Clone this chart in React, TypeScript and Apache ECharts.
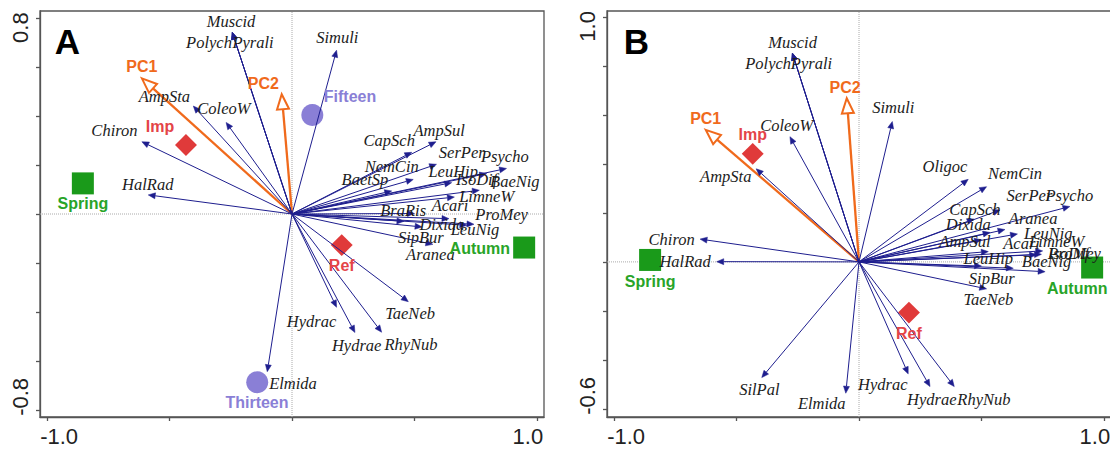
import React, { useEffect, useRef } from "react";
import * as echarts from "echarts";

// ---------------- Panel A data ----------------
const speciesA = ["Muscid","Polych","Pyrali","Simuli","AmpSta","ColeoW","Chiron","HalRad","Elmida","Hydrac","Hydrae","RhyNub","TaeNeb","AmpSul","CapSch","SerPer","Psycho","NemCin","LeuHip","IsoDif","BaetSp","BaeNig","LimneW","BraRis","Acari","ProMey","Dixida","LeuNig","SipBur","Aranea"];
const tipAX = [-0.244,-0.244,-0.244,0.182,-0.403,-0.269,-0.613,-0.587,-0.101,0.182,0.257,0.366,0.475,0.588,0.489,0.590,0.876,0.495,0.652,0.795,0.407,0.765,0.663,0.500,0.641,0.743,0.531,0.714,0.457,0.575];
const tipAY = [0.742,0.742,0.742,0.669,0.441,0.374,0.295,0.078,-0.644,-0.381,-0.484,-0.483,-0.358,0.295,0.252,0.203,0.186,0.141,0.128,0.165,0.094,0.097,0.069,0.002,-0.019,-0.042,-0.053,-0.046,-0.030,-0.124];
const labAX = [-0.249,-0.339,-0.159,0.185,-0.521,-0.278,-0.725,-0.589,0.004,0.080,0.264,0.486,0.482,0.601,0.397,0.693,0.869,0.407,0.658,0.754,0.298,0.910,0.795,0.454,0.645,0.856,0.612,0.747,0.526,0.565];
const labAY = [0.785,0.699,0.699,0.721,0.479,0.431,0.343,0.121,-0.691,-0.437,-0.535,-0.531,-0.408,0.343,0.302,0.250,0.234,0.196,0.173,0.139,0.141,0.132,0.071,0.016,0.033,0.000,-0.041,-0.065,-0.097,-0.166];

const pcNames = ["PC1", "PC2"];
const pcAX = [-0.613, -0.042];
const pcAY = [0.554, 0.489];
const pcLabAX = [-0.613, -0.117];
const pcLabAY = [0.601, 0.533];

const groupsA = ["Imp", "Ref", "Spring", "Autumn", "Fifteen", "Thirteen"];
const grpAX = [-0.433, 0.203, -0.854, 0.948, 0.083, -0.142];
const grpAY = [0.282, -0.127, 0.125, -0.137, 0.404, -0.687];
const grpLabAX = [-0.539, 0.203, -0.854, 0.767, 0.237, -0.143];
const grpLabAY = [0.359, -0.211, 0.041, -0.140, 0.479, -0.771];

// ---------------- Panel B data ----------------
const speciesB = ["Muscid","Polych","Pyrali","Simuli","ColeoW","AmpSta","Chiron","HalRad","SilPal","Elmida","Hydrac","Hydrae","RhyNub","TaeNeb","SipBur","Oligoc","NemCin","SerPer","Psycho","CapSch","Aranea","Dixida","LeuNig","AmpSul","Acari","LimneW","LeuHip","IsoDif","ProMey","BaeNig"];
const tipBX = [-0.272,-0.272,-0.272,0.136,-0.282,-0.420,-0.649,-0.581,-0.397,-0.054,0.201,0.290,0.389,0.521,0.500,0.446,0.521,0.576,0.861,0.470,0.596,0.535,0.647,0.500,0.630,0.750,0.528,0.725,0.745,0.760];
const tipBY = [0.852,0.852,0.852,0.573,0.511,0.380,0.093,0.001,-0.472,-0.536,-0.457,-0.509,-0.509,-0.110,-0.017,0.337,0.307,0.212,0.226,0.175,0.132,0.120,0.114,0.090,-0.026,0.045,0.042,0.029,0.031,-0.040];
const labBX = [-0.271,-0.371,-0.194,0.140,-0.295,-0.544,-0.765,-0.710,-0.407,-0.152,0.097,0.297,0.510,0.528,0.542,0.351,0.637,0.696,0.859,0.473,0.711,0.446,0.773,0.433,0.664,0.807,0.528,0.855,0.880,0.766];
const labBY = [0.895,0.811,0.811,0.631,0.555,0.348,0.093,0.001,-0.520,-0.577,-0.502,-0.563,-0.563,-0.152,-0.067,0.389,0.359,0.269,0.269,0.212,0.178,0.151,0.117,0.083,0.076,0.083,0.015,0.033,0.033,0.001];

const pcBX = [-0.626, -0.050];
const pcBY = [0.539, 0.668];
const pcLabBX = [-0.626, -0.057];
const pcLabBY = [0.586, 0.713];

const groupsB = ["Imp", "Ref", "Spring", "Autumn"];
const grpBX = [-0.434, 0.204, -0.853, 0.952];
const grpBY = [0.441, -0.207, 0.008, -0.023];
const grpLabBX = [-0.434, 0.204, -0.853, 0.891];
const grpLabBY = [0.518, -0.291, -0.078, -0.107];

// ---------------- Axes ----------------
const xRange = [-1.029, 1.029];
const yRangeA = [-0.829, 0.829];
const yRangeB = [-0.633, 1.024];
const xTicks = [-1, -0.5, 0, 0.5, 1];
const xTickLabels = [-1, 1];
const yTicksA = [-0.8, -0.6, -0.4, -0.2, 0, 0.2, 0.4, 0.6, 0.8];
const yTickLabelsA = [-0.8, 0.8];
const yTicksB = [-0.6, -0.4, -0.2, 0, 0.2, 0.4, 0.6, 0.8, 1.0];
const yTickLabelsB = [-0.6, 1.0];
const panelLetters = ["A", "B"];

// ---------------- Styles ----------------
const NAVY = "#1e1e8e";
const ORANGE = "#f06a1c";
const RED = "#e03a3a";
const GREEN = "#1a9a1a";
const PURPLE = "#8a7fd6";
const AXIS = "#555";
const SANS = "Liberation Sans, Arial, sans-serif";
const SERIF = "Liberation Serif, Times New Roman, serif";

const groupStyle: Record<string, { symbol: string; size: number; rotate: number; color: string; text: string }> = {
  Imp: { symbol: "rect", size: 15.5, rotate: 45, color: RED, text: "#e44448" },
  Ref: { symbol: "rect", size: 15.5, rotate: 45, color: RED, text: "#e44448" },
  Spring: { symbol: "rect", size: 22, rotate: 0, color: GREEN, text: "#28a428" },
  Autumn: { symbol: "rect", size: 22, rotate: 0, color: GREEN, text: "#28a428" },
  Fifteen: { symbol: "circle", size: 22, rotate: 0, color: PURPLE, text: PURPLE },
  Thirteen: { symbol: "circle", size: 22, rotate: 0, color: PURPLE, text: PURPLE },
};

function arrowSeries(ai: number, xs: number[], ys: number[], opts: { color: string; width: number; headLen: number; headHalf: number; hollow: boolean; z: number }) {
  return {
    type: "custom",
    coordinateSystem: "cartesian2d",
    xAxisIndex: ai,
    yAxisIndex: ai,
    silent: true,
    z: opts.z,
    data: xs.map((x, i) => [x, ys[i]]),
    renderItem: (_p: any, api: any) => {
      const p0 = api.coord([0, 0]);
      const p1 = api.coord([api.value(0), api.value(1)]);
      const dx = p1[0] - p0[0];
      const dy = p1[1] - p0[1];
      const len = Math.hypot(dx, dy) || 1;
      const ux = dx / len;
      const uy = dy / len;
      const bx = p1[0] - ux * opts.headLen;
      const by = p1[1] - uy * opts.headLen;
      const h = opts.headHalf;
      return {
        type: "group",
        children: [
          { type: "line", shape: { x1: p0[0], y1: p0[1], x2: bx, y2: by }, style: { stroke: opts.color, lineWidth: opts.width } },
          {
            type: "polygon",
            shape: { points: [[p1[0], p1[1]], [bx - uy * h, by + ux * h], [bx + uy * h, by - ux * h]] },
            style: opts.hollow ? { fill: "#fff", stroke: opts.color, lineWidth: 2 } : { fill: opts.color, stroke: opts.color, lineWidth: 0.5 },
          },
        ],
      };
    },
  };
}

function textSeries(ai: number, names: string[], xs: number[], ys: number[], colorOf: (n: string) => string, font: { size: number; family: string; style: string; weight: string }, z: number) {
  return {
    type: "custom",
    coordinateSystem: "cartesian2d",
    xAxisIndex: ai,
    yAxisIndex: ai,
    silent: true,
    z,
    data: xs.map((x, i) => [x, ys[i]]),
    renderItem: (params: any, api: any) => {
      const p = api.coord([api.value(0), api.value(1)]);
      const name = names[params.dataIndex];
      return {
        type: "text",
        x: p[0],
        y: p[1],
        style: {
          text: name,
          fill: colorOf(name),
          fontSize: font.size,
          fontFamily: font.family,
          fontStyle: font.style,
          fontWeight: font.weight,
          align: "center",
          verticalAlign: "middle",
        },
      };
    },
  };
}

function panel(ai: number, species: string[], tx: number[], ty: number[], lx: number[], ly: number[], px: number[], py: number[], plx: number[], ply: number[], groups: string[], gx: number[], gy: number[], glx: number[], gly: number[], yr: number[]) {
  const dotted = { color: "#aaa", width: 1, type: "dotted" };
  return [
    { type: "line", xAxisIndex: ai, yAxisIndex: ai, data: [[xRange[0], 0], [xRange[1], 0]], symbol: "none", silent: true, lineStyle: dotted, z: 1 },
    { type: "line", xAxisIndex: ai, yAxisIndex: ai, data: [[0, yr[0]], [0, yr[1]]], symbol: "none", silent: true, lineStyle: dotted, z: 1 },
    {
      type: "scatter",
      xAxisIndex: ai,
      yAxisIndex: ai,
      silent: true,
      z: 2,
      data: groups.map((g, i) => ({
        value: [gx[i], gy[i]],
        symbol: groupStyle[g].symbol,
        symbolSize: groupStyle[g].size,
        symbolRotate: groupStyle[g].rotate,
        itemStyle: { color: groupStyle[g].color, opacity: 1 },
      })),
    },
    arrowSeries(ai, px, py, { color: ORANGE, width: 2.3, headLen: 15, headHalf: 6, hollow: true, z: 3 }),
    arrowSeries(ai, tx, ty, { color: NAVY, width: 1, headLen: 7, headHalf: 3, hollow: false, z: 4 }),
    textSeries(ai, species, lx, ly, () => "#1c1c1c", { size: 16.5, family: SERIF, style: "italic", weight: "normal" }, 5),
    textSeries(ai, pcNames, plx, ply, () => ORANGE, { size: 16, family: SANS, style: "normal", weight: "bold" }, 5),
    textSeries(ai, groups, glx, gly, (n) => groupStyle[n].text, { size: 16, family: SANS, style: "normal", weight: "bold" }, 5),
  ];
}

const labelRich = {
  l: { fontSize: 22, fontFamily: SANS, color: "#222", padding: [0, 0, 0, 24] },
  r: { fontSize: 22, fontFamily: SANS, color: "#222", padding: [0, 18, 0, 0] },
  yl: { fontSize: 22, fontFamily: SANS, color: "#222", padding: [0, 0, 0, 26] },
  yr: { fontSize: 22, fontFamily: SANS, color: "#222", padding: [0, 19, 0, 0] },
};

function xAxis(ai: number) {
  return {
    type: "value",
    gridIndex: ai,
    min: xRange[0],
    max: xRange[1],
    splitLine: { show: false },
    axisLine: { show: true, onZero: false, lineStyle: { color: AXIS, width: 1.3 } },
    axisTick: { show: true, length: 4, inside: false, customValues: xTicks, lineStyle: { color: AXIS, width: 1.3 } },
    axisLabel: {
      show: true,
      margin: 8,
      customValues: xTickLabels,
      formatter: (v: number) => (v < 0 ? `{l|${v.toFixed(1)}}` : `{r|${v.toFixed(1)}}`),
      rich: labelRich,
    },
  };
}

function yAxis(ai: number, yr: number[], ticks: number[], labels: number[]) {
  return {
    type: "value",
    gridIndex: ai,
    min: yr[0],
    max: yr[1],
    splitLine: { show: false },
    axisLine: { show: true, onZero: false, lineStyle: { color: AXIS, width: 1.3 } },
    axisTick: { show: true, length: 4, inside: false, customValues: ticks, lineStyle: { color: AXIS, width: 1.3 } },
    axisLabel: {
      show: true,
      rotate: 90,
      margin: 9,
      customValues: labels,
      formatter: (v: number) => (v < 0 ? `{yl|${v.toFixed(1)}}` : `{yr|${v.toFixed(1)}}`),
      rich: labelRich,
    },
  };
}

export default function App() {
  const ref = useRef<HTMLDivElement>(null);
  useEffect(() => {
    if (!ref.current) return;
    const chart = echarts.init(ref.current, undefined, { renderer: "svg" });
    const option: any = {
      animation: false,
      backgroundColor: "#fff",
      grid: [
        { left: 40, top: 11, width: 504, height: 406, show: true, borderColor: AXIS, borderWidth: 1.3, containLabel: false, outerBoundsMode: "none" },
        { left: 607, top: 11, width: 504, height: 406, show: true, borderColor: AXIS, borderWidth: 1.3, containLabel: false, outerBoundsMode: "none" },
      ],
      xAxis: [xAxis(0), xAxis(1)],
      yAxis: [yAxis(0, yRangeA, yTicksA, yTickLabelsA), yAxis(1, yRangeB, yTicksB, yTickLabelsB)],
      graphic: [
        { type: "text", x: 67.5, y: 41, style: { text: panelLetters[0], fill: "#000", fontSize: 35, fontWeight: "bold", fontFamily: SANS, align: "center", verticalAlign: "middle" } },
        { type: "text", x: 636.5, y: 41, style: { text: panelLetters[1], fill: "#000", fontSize: 35, fontWeight: "bold", fontFamily: SANS, align: "center", verticalAlign: "middle" } },
      ],
      series: [
        ...panel(0, speciesA, tipAX, tipAY, labAX, labAY, pcAX, pcAY, pcLabAX, pcLabAY, groupsA, grpAX, grpAY, grpLabAX, grpLabAY, yRangeA),
        ...panel(1, speciesB, tipBX, tipBY, labBX, labBY, pcBX, pcBY, pcLabBX, pcLabBY, groupsB, grpBX, grpBY, grpLabBX, grpLabBY, yRangeB),
      ],
    };
    chart.setOption(option);
    return () => chart.dispose();
  }, []);
  return <div ref={ref} style={{ position: "fixed", left: 0, top: 0, width: 1110, height: 449, background: "#fff" }} />;
}
